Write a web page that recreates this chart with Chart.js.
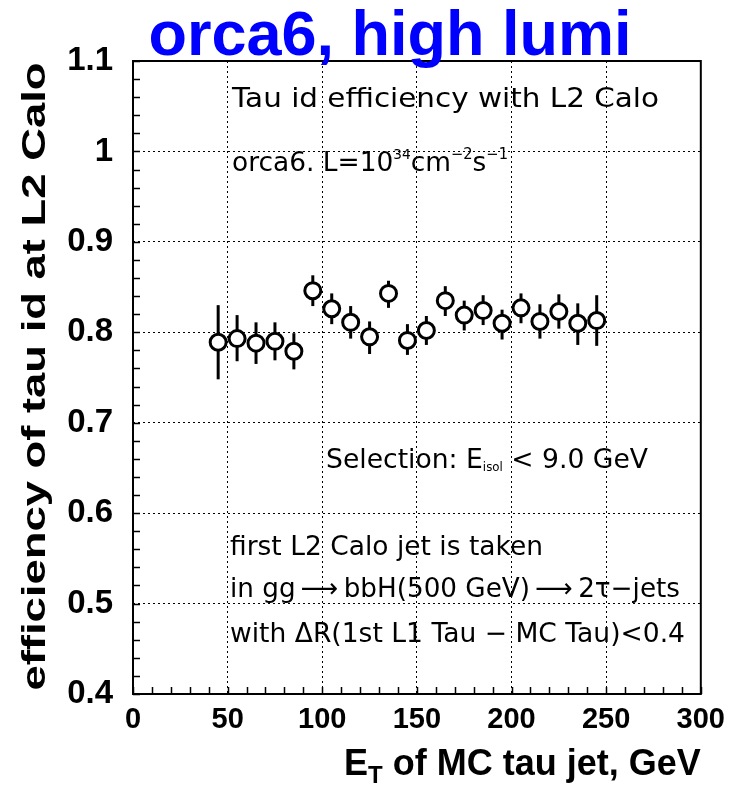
<!DOCTYPE html>
<html>
<head>
<meta charset="utf-8">
<script src="https://cdn.jsdelivr.net/npm/chart.js@4.4.1/dist/chart.umd.min.js"></script>
<style>
  html, body { margin: 0; padding: 0; background: #fff; }
  canvas { display: block; }
</style>
</head>
<body>
<canvas id="eff" width="734" height="788"></canvas>
<script>
/* global document, Chart */

// MC tau jet ET bin centres (GeV)
const etBins = [45, 55, 65, 75, 85, 95, 105, 115, 125, 135, 145, 155, 165, 175, 185, 195, 205, 215, 225, 235, 245];
// tau id efficiency at L2 Calo
const efficiency = [0.789, 0.793, 0.788, 0.790, 0.779, 0.846, 0.826, 0.811, 0.795, 0.843, 0.791,
  0.802, 0.835, 0.819, 0.824, 0.810, 0.827, 0.812, 0.823, 0.810, 0.813];
const errUp = [0.041, 0.026, 0.023, 0.021, 0.020, 0.017, 0.017, 0.018, 0.017, 0.014, 0.018,
  0.016, 0.016, 0.016, 0.017, 0.015, 0.016, 0.019, 0.019, 0.022, 0.028];
const errDown = [0.041, 0.025, 0.023, 0.021, 0.020, 0.017, 0.017, 0.018, 0.019, 0.016, 0.016,
  0.016, 0.017, 0.017, 0.016, 0.018, 0.017, 0.019, 0.019, 0.024, 0.028];

const xMin = 0, xMax = 300, xStep = 50, xMinorStep = 10;
const yMin = 0.4, yMax = 1.1, yStep = 0.1, yMinorStep = 0.02;

const sans = '"Liberation Sans", Arial, sans-serif';
const rootFont = '"DejaVu Sans", sans-serif';

// Draw a run of text pieces [text, sizeScale, baselineShift], squeezed/stretched to a width
function drawRich(ctx, x, y, size, width, parts) {
  const fontFor = s => `normal ${Math.round(size * s)}px ${rootFont}`;
  let total = 0;
  parts.forEach(([txt, s]) => { ctx.font = fontFor(s); total += ctx.measureText(txt).width; });
  ctx.save();
  ctx.translate(x, y);
  ctx.scale(width / total, 1);
  let cx = 0;
  parts.forEach(([txt, s, dy]) => {
    ctx.font = fontFor(s);
    ctx.fillText(txt, cx, dy);
    cx += ctx.measureText(txt).width;
  });
  ctx.restore();
}

const errorBars = {
  id: "errorBars",
  beforeDatasetsDraw(chart) {
    const {ctx, scales: {x, y}} = chart;
    ctx.save();
    ctx.strokeStyle = "#000";
    ctx.lineWidth = 3;
    etBins.forEach((et, i) => {
      const px = x.getPixelForValue(et);
      ctx.beginPath();
      ctx.moveTo(px, y.getPixelForValue(efficiency[i] + errUp[i]));
      ctx.lineTo(px, y.getPixelForValue(efficiency[i] - errDown[i]));
      ctx.stroke();
    });
    ctx.restore();
  }
};

const frame = {
  id: "frame",
  afterDatasetsDraw(chart) {
    const {ctx, chartArea: a, scales: {x, y}} = chart;
    ctx.save();
    ctx.strokeStyle = "#000";
    ctx.lineWidth = 1.5;
    // minor ticks along left and bottom axes
    ctx.beginPath();
    for (let v = yMin; v <= yMax + 1e-9; v += yMinorStep) {
      const py = Math.round(y.getPixelForValue(v)) + 0.5;
      ctx.moveTo(a.left, py);
      ctx.lineTo(a.left + 7, py);
    }
    for (let v = xMin; v <= xMax + 1e-9; v += xMinorStep) {
      const px = Math.round(x.getPixelForValue(v)) + 0.5;
      ctx.moveTo(px, a.bottom);
      ctx.lineTo(px, a.bottom - 7);
    }
    ctx.stroke();
    ctx.lineWidth = 2;
    ctx.strokeRect(a.left, a.top, a.right - a.left, a.bottom - a.top);
    ctx.restore();
  },
  afterDraw(chart) {
    const {ctx, chartArea: a} = chart;
    ctx.save();
    ctx.textBaseline = "alphabetic";

    // big blue title
    ctx.fillStyle = "#0000ff";
    ctx.font = `bold 63px ${sans}`;
    ctx.textAlign = "center";
    ctx.fillText("orca6, high lumi", 390, 55);

    // y axis title, stretched along its length like the ROOT output
    ctx.fillStyle = "#000";
    ctx.font = `bold 34px ${sans}`;
    const yTitle = "efficiency of tau id at L2 Calo";
    const yw = ctx.measureText(yTitle).width;
    ctx.save();
    ctx.translate(45, (a.top + a.bottom) / 2 - 1);
    ctx.rotate(-Math.PI / 2);
    ctx.scale(628 / yw, 1);
    ctx.fillText(yTitle, 0, 0);
    ctx.restore();

    // x axis title with subscript
    ctx.textAlign = "left";
    ctx.font = `bold 36px ${sans}`;
    const wE = ctx.measureText("E").width;
    const rest = " of MC tau jet, GeV";
    const wRest = ctx.measureText(rest).width;
    ctx.font = `bold 24px ${sans}`;
    const wT = ctx.measureText("T").width;
    const x0 = a.right - (wE + wT + wRest);
    ctx.font = `bold 36px ${sans}`;
    ctx.fillText("E", x0, 775);
    ctx.font = `bold 24px ${sans}`;
    ctx.fillText("T", x0 + wE, 783);
    ctx.font = `bold 36px ${sans}`;
    ctx.fillText(rest, x0 + wE + wT, 775);

    // annotations
    const fs = 27;
    drawRich(ctx, 232, 107, fs, 427, [["Tau id efficiency with L2 Calo", 1, 0]]);
    drawRich(ctx, 232, 171, fs, 276, [
      ["orca6. L=10", 1, 0], ["34", 0.5, -12], ["cm", 1, 0], ["\u22122", 0.55, -12],
      ["s", 1, 0], ["\u22121", 0.55, -12]
    ]);
    drawRich(ctx, 326, 468, fs, 322, [
      ["Selection: E", 1, 0], ["isol", 0.45, 3], [" < 9.0 GeV", 1, 0]
    ]);
    drawRich(ctx, 230, 555, fs, 313, [["first L2 Calo jet is taken", 1, 0]]);
    drawRich(ctx, 230, 597, fs, 450, [
      ["in gg\u2009", 1, 0], ["\u27F6", 1, 0], ["\u2009bbH(500 GeV)\u2009", 1, 0], ["\u27F6", 1, 0],
      ["\u20092\u03C4\u2212jets", 1, 0]
    ]);
    drawRich(ctx, 230, 642, fs, 455, [["with \u0394R(1st L1 Tau \u2212 MC Tau)<0.4", 1, 0]]);
    ctx.restore();
  }
};

new Chart(document.getElementById("eff"), {
  type: "scatter",
  data: {
    datasets: [{
      data: etBins.map((et, i) => ({x: et, y: efficiency[i]})),
      pointStyle: "circle",
      pointRadius: 8,
      pointBorderWidth: 3,
      pointBorderColor: "#000",
      pointBackgroundColor: "#fff",
      showLine: false
    }]
  },
  options: {
    responsive: false,
    animation: false,
    events: [],
    layout: {padding: {top: 61, right: 25, left: 0, bottom: 0}},
    plugins: {legend: {display: false}, tooltip: {enabled: false}},
    scales: {
      x: {
        type: "linear",
        min: xMin,
        max: xMax,
        afterFit: s => { s.height = 94; },
        ticks: {
          stepSize: xStep,
          color: "#000",
          padding: 9,
          font: {family: sans, size: 29, weight: "bold"}
        },
        grid: {color: "#000", lineWidth: 1, drawTicks: false},
        border: {display: false, dash: [2, 3]}
      },
      y: {
        type: "linear",
        min: yMin,
        max: yMax,
        afterFit: s => { s.width = 133; },
        ticks: {
          stepSize: yStep,
          color: "#000",
          padding: 20,
          font: {family: sans, size: 33, weight: "bold"},
          callback: v => String(+v.toFixed(1))
        },
        grid: {color: "#000", lineWidth: 1, drawTicks: false},
        border: {display: false, dash: [2, 3]}
      }
    }
  },
  plugins: [errorBars, frame]
});
</script>
</body>
</html>
